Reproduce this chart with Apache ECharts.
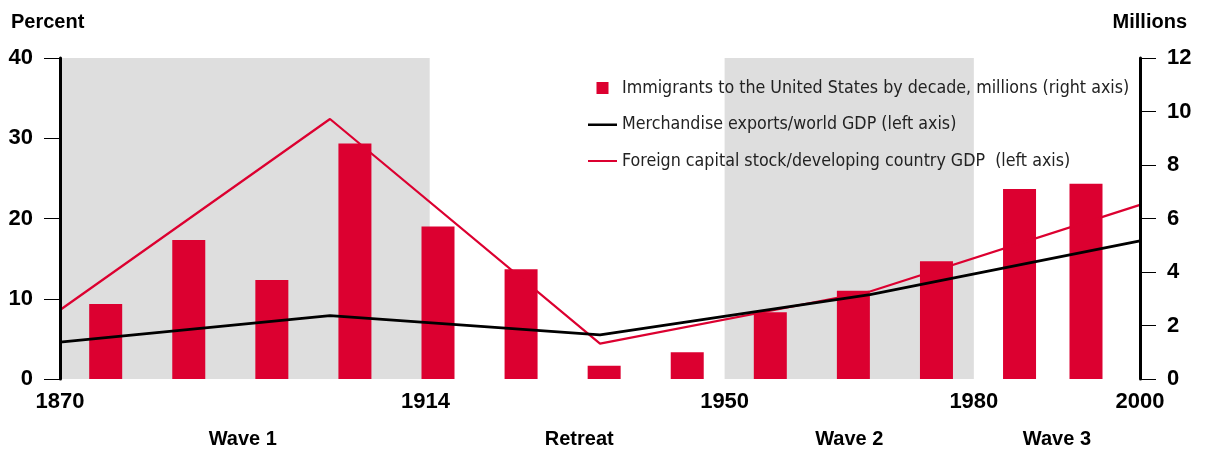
<!DOCTYPE html>
<html>
<head>
<meta charset="utf-8">
<script src="https://cdn.jsdelivr.net/npm/echarts@6/dist/echarts.min.js"></script>
<style>
  html, body { margin: 0; padding: 0; background: #fff; }
  #chart { width: 1206px; height: 450px; }
</style>
</head>
<body>
<div id="chart"></div>
<script>
// immigrants by decade (right axis, millions), bar centred in each decade
var barYears = [1875.5, 1885.5, 1895.5, 1905.5, 1915.5, 1925.5, 1935.5, 1945.5, 1955.5, 1965.5, 1975.5, 1985.5, 1993.5];
var immigrants = [2.8, 5.2, 3.7, 8.8, 5.7, 4.1, 0.5, 1.0, 2.5, 3.3, 4.4, 7.1, 7.3];

// benchmark points for the two ratios (left axis, percent)
var lineYears = [1870, 1902.5, 1935, 1967.5, 2000];
var exportsGdp = [4.6, 7.9, 5.5, 10.5, 17.2];
var capitalGdp = [8.6, 32.4, 4.4, 10.9, 21.7];

var xTicks = [1870, 1914, 1950, 1980, 2000];
var periodNames = ["Wave 1", "Retreat", "Wave 2", "Wave 3"];
var periodPos = [1892, 1932.5, 1965, 1990];
var bands = [[1870, 1914.5], [1950, 1980]];

var RED = "#dc0030";
var GREY = "#dedede";
var BOLD = "Liberation Sans, Arial, sans-serif";
var NARROW = "Liberation Sans Narrow, DejaVu Sans Condensed, sans-serif";

function zipXY(xs, ys) {
  return xs.map(function (x, i) { return [x, ys[i]]; });
}

var chart = echarts.init(document.getElementById("chart"));

chart.setOption({
  backgroundColor: "#fff",
  animation: false,
  title: [
    {
      text: "Percent",
      left: 6,
      top: 7,
      textStyle: { fontFamily: BOLD, fontWeight: "bold", fontSize: 20, color: "#000" },
    },
    {
      text: "Millions",
      right: 14,
      top: 7,
      textStyle: { fontFamily: BOLD, fontWeight: "bold", fontSize: 20, color: "#000" },
    },
  ],
  legend: {
    orient: "vertical",
    left: 583,
    top: 74,
    itemWidth: 29,
    itemHeight: 12,
    itemGap: 18.5,
    textStyle: { fontFamily: NARROW, fontSize: 17.7, color: "#222" },
    data: [
      {
        name: "Immigrants to the United States by decade, millions (right axis)",
        // square centred in the 29px icon box
        icon: "path://M0,6h0.01M8.5,0h12v12h-12zM29,6h-0.01",
      },
      {
        name: "Merchandise exports/world GDP (left axis)",
        icon: "path://M0,0h0.01M0,5h29v2.5h-29zM29,12h-0.01",
      },
      {
        name: "Foreign capital stock/developing country GDP  (left axis)",
        icon: "path://M0,0h0.01M0,5h29v2h-29zM29,12h-0.01",
      },
    ],
  },
  grid: {
    left: 60,
    right: 66,
    top: 58,
    bottom: 71,
  },
  xAxis: [
    {
      type: "value",
      min: 1870,
      max: 2000,
      splitLine: { show: false },
      axisLine: { show: false },
      axisTick: { show: false },
      axisLabel: {
        customValues: xTicks,
        margin: 12,
        fontFamily: BOLD,
        fontWeight: "bold",
        fontSize: 22,
        color: "#000",
        formatter: function (v) { return String(v); },
      },
    },
    {
      type: "value",
      position: "bottom",
      min: 1870,
      max: 2000,
      splitLine: { show: false },
      axisLine: { show: false },
      axisTick: { show: false },
      axisLabel: {
        customValues: periodPos,
        margin: 50,
        fontFamily: BOLD,
        fontWeight: "bold",
        fontSize: 20,
        color: "#000",
        formatter: function (v) {
          var i = periodPos.indexOf(v);
          return i >= 0 ? periodNames[i] : "";
        },
      },
    },
  ],
  yAxis: [
    {
      type: "value",
      min: 0,
      max: 40,
      interval: 10,
      z: 10,
      splitLine: { show: false },
      axisLine: { show: true, lineStyle: { color: "#000", width: 3 } },
      axisTick: { show: true, length: 16, lineStyle: { color: "#000", width: 1 } },
      axisLabel: {
        margin: 27,
        fontFamily: BOLD,
        fontWeight: "bold",
        fontSize: 22,
        color: "#000",
      },
    },
    {
      type: "value",
      position: "right",
      min: 0,
      max: 12,
      interval: 2,
      z: 10,
      splitLine: { show: false },
      axisLine: { show: true, lineStyle: { color: "#000", width: 3 } },
      axisTick: { show: true, length: 16, lineStyle: { color: "#000", width: 1 } },
      axisLabel: {
        margin: 27,
        fontFamily: BOLD,
        fontWeight: "bold",
        fontSize: 22,
        color: "#000",
      },
    },
  ],
  series: [
    {
      // shaded periods only
      name: "bands",
      type: "line",
      data: [],
      z: 0,
      silent: true,
      markArea: {
        silent: true,
        itemStyle: { color: GREY },
        data: bands.map(function (b) {
          return [{ xAxis: b[0] }, { xAxis: b[1] }];
        }),
      },
    },
    {
      name: "Immigrants to the United States by decade, millions (right axis)",
      type: "bar",
      yAxisIndex: 1,
      barWidth: 33,
      itemStyle: { color: RED },
      data: zipXY(barYears, immigrants),
      z: 2,
    },
    {
      name: "Merchandise exports/world GDP (left axis)",
      type: "line",
      symbol: "none",
      lineStyle: { color: "#000", width: 2.8 },
      itemStyle: { color: "#000" },
      data: zipXY(lineYears, exportsGdp),
      z: 4,
    },
    {
      name: "Foreign capital stock/developing country GDP  (left axis)",
      type: "line",
      symbol: "none",
      lineStyle: { color: RED, width: 2.2 },
      itemStyle: { color: RED },
      data: zipXY(lineYears, capitalGdp),
      z: 3,
    },
  ],
});
</script>
</body>
</html>
